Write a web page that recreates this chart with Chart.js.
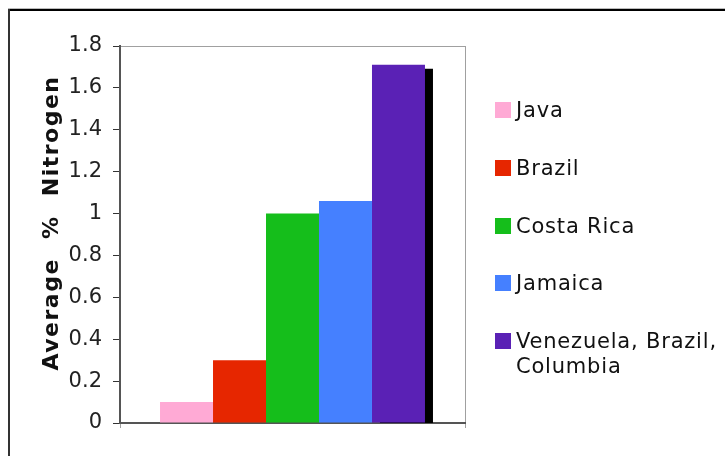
<!DOCTYPE html>
<html>
<head>
<meta charset="utf-8">
<script src="https://cdn.jsdelivr.net/npm/chart.js@4.4.1/dist/chart.umd.min.js"></script>
<style>
  html, body { margin: 0; padding: 0; background: #fff; }
  canvas { display: block; }
</style>
</head>
<body>
<canvas id="chart" width="725" height="456"></canvas>
<script>
const categories = [''];
const seriesNames = ['Java', 'Brazil', 'Costa Rica', 'Jamaica', 'Venezuela, Brazil, Columbia'];
const seriesValues = [0.1, 0.3, 1.0, 1.06, 1.71];
const seriesColors = ['#FFAAD5', '#E62600', '#15BE1B', '#4580FF', '#5A21B5'];
const yTickLabels = ['0', '0.2', '0.4', '0.6', '0.8', '1', '1.2', '1.4', '1.6', '1.8'];
const yTitle = 'Average % Nitrogen';

const FONT = '"DejaVu Sans", Verdana, sans-serif';

// white page + the frame around the whole chart (runs off right/bottom)
const framePlugin = {
  id: 'frame',
  beforeDraw: (chart) => {
    const ctx = chart.ctx;
    ctx.save();
    ctx.fillStyle = '#fff';
    ctx.fillRect(0, 0, chart.width, chart.height);
    ctx.fillStyle = '#bbb';
    ctx.fillRect(8, 8, chart.width, 1);
    ctx.fillStyle = '#000';
    ctx.fillRect(8, 9, chart.width, 2);
    ctx.fillStyle = '#333';
    ctx.fillRect(8, 9, 2, chart.height);
    ctx.restore();
  }
};

// hard black drop shadow, only the last bar shows it
const shadowPlugin = {
  id: 'barShadow',
  beforeDatasetDraw: (chart, args) => {
    if (args.index !== seriesValues.length - 1) return;
    const ctx = chart.ctx;
    ctx.save();
    ctx.shadowColor = '#000';
    ctx.shadowOffsetX = 8;
    ctx.shadowOffsetY = 4;
    ctx.shadowBlur = 0;
  },
  afterDatasetDraw: (chart, args) => {
    if (args.index === seriesValues.length - 1) chart.ctx.restore();
  }
};

const yTitlePlugin = {
  id: 'yTitle',
  afterDraw: (chart) => {
    const ctx = chart.ctx;
    ctx.save();
    ctx.translate(58, 223);
    ctx.rotate(-Math.PI / 2);
    ctx.font = 'bold 22px ' + FONT;
    ctx.letterSpacing = '1.5px';
    ctx.wordSpacing = '10px';
    ctx.textAlign = 'center';
    ctx.textBaseline = 'alphabetic';
    ctx.fillStyle = '#111';
    ctx.fillText(yTitle, 0, 0);
    ctx.restore();
  }
};

const wrapText = (ctx, text, maxW) => {
  const words = text.split(' ');
  const lines = [];
  let line = '';
  words.forEach(w => {
    const test = line ? line + ' ' + w : w;
    if (line && ctx.measureText(test).width > maxW) {
      lines.push(line);
      line = w;
    } else {
      line = test;
    }
  });
  if (line) lines.push(line);
  return lines;
};

// legend on the right, one item every ~58px
const legendPlugin = {
  id: 'sideLegend',
  afterDraw: (chart) => {
    const ctx = chart.ctx;
    ctx.save();
    ctx.font = '21px ' + FONT;
    ctx.letterSpacing = '0.8px';
    ctx.textAlign = 'left';
    ctx.textBaseline = 'alphabetic';
    const boxX = 495, textX = 516;
    const maxW = chart.width - textX;
    chart.data.datasets.forEach((ds, i) => {
      const top = Math.round(102 + i * 57.8);
      ctx.fillStyle = ds.backgroundColor;
      ctx.fillRect(boxX, top, 16, 16);
      ctx.fillStyle = '#111';
      wrapText(ctx, ds.label, maxW).forEach((line, j) => {
        ctx.fillText(line, textX, top + 15 + j * 25);
      });
    });
    ctx.restore();
  }
};

new Chart(document.getElementById('chart'), {
  type: 'bar',
  data: {
    labels: categories,
    datasets: seriesNames.map((name, i) => ({
      label: name,
      data: [seriesValues[i]],
      backgroundColor: seriesColors[i],
      borderWidth: 0,
      categoryPercentage: 0.768,
      barPercentage: 1,
      clip: 0
    }))
  },
  options: {
    responsive: false,
    animation: false,
    devicePixelRatio: 1,
    layout: { padding: { left: 69, right: 260, top: 46, bottom: 28 } },
    plugins: {
      legend: { display: false },
      tooltip: { enabled: false }
    },
    scales: {
      x: {
        grid: { offset: true, drawOnChartArea: true, color: '#a0a0a0', tickLength: 5 },
        border: { color: '#555', width: 2 },
        ticks: { display: false }
      },
      y: {
        min: 0,
        max: 1.8,
        ticks: {
          stepSize: 0.2,
          color: '#222',
          padding: 11,
          font: { family: FONT, size: 21 },
          callback: (v, i) => yTickLabels[i]
        },
        grid: {
          drawOnChartArea: true,
          color: (c) => c.index === yTickLabels.length - 1 ? '#a0a0a0' : 'rgba(0,0,0,0)',
          tickColor: '#333',
          tickLength: 7
        },
        border: { color: '#555', width: 2 },
        afterFit: (scale) => { scale.width = 51; }
      }
    }
  },
  plugins: [framePlugin, shadowPlugin, yTitlePlugin, legendPlugin]
});
</script>
</body>
</html>
